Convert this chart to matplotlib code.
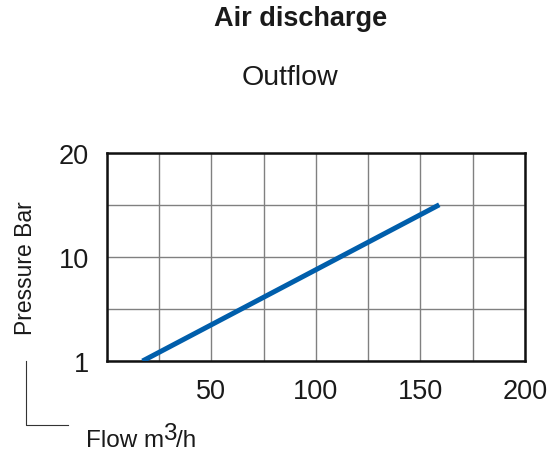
import matplotlib.pyplot as plt
import matplotlib.lines as mlines

plt.rcParams['font.family'] = ['Liberation Sans', 'DejaVu Sans']

# curve
flow = [17, 159]
pressure = [0, 15]

x_ticks = [50, 100, 150, 200]
y_ticks = [0, 10, 20]
y_tick_labels = ['1', '10', '20']

fig = plt.figure(figsize=(5.57, 4.52), dpi=100)
ax = fig.add_axes([0.192, 0.199, 0.7505, 0.461])

ax.plot(flow, pressure, color='#005eab', linewidth=3.6, solid_capstyle='butt', zorder=3)

ax.set_xlim(0, 200)
ax.set_ylim(0, 20)
ax.set_xticks(x_ticks)
ax.set_yticks(y_ticks)
ax.set_yticklabels(y_tick_labels)
ax.set_xticks(range(0, 201, 25), minor=True)
ax.set_yticks(range(0, 21, 5), minor=True)
ax.grid(which='both', color='#808080', linewidth=1.0)
ax.tick_params(which='both', length=0)
ax.tick_params(axis='x', labelsize=19.5, pad=12, colors='#1a1a1a')
ax.tick_params(axis='y', labelsize=19.5, pad=13, colors='#1a1a1a')
for s in ax.spines.values():
    s.set_linewidth(1.8)
    s.set_color('#111111')

fig.text(0.540, 0.957, 'Air discharge', ha='center', va='center', fontsize=19.5,
         fontweight='bold', color='#1a1a1a')
fig.text(0.521, 0.828, 'Outflow', ha='center', va='center', fontsize=20.5, color='#1a1a1a')
fig.text(0.045, 0.407, 'Pressure Bar', rotation=90, ha='center', va='center',
         fontsize=16.5, color='#1a1a1a')

# x label with a full-size raised "3"
fig.text(86 / 557, 1 - 447 / 452, 'Flow m', ha='left', va='baseline', fontsize=17.5,
         color='#1a1a1a')
fig.text(163 / 557, 1 - 440 / 452, '3', ha='left', va='baseline', fontsize=17.5,
         color='#1a1a1a')
fig.text(176 / 557, 1 - 447 / 452, '/h', ha='left', va='baseline', fontsize=17.5,
         color='#1a1a1a')

# bracket linking the two axis labels
fig.add_artist(mlines.Line2D([0.047, 0.047, 0.122], [0.2, 0.058, 0.058],
                             transform=fig.transFigure, color='#333333', linewidth=0.8))

fig.savefig('out.png', dpi=100)
